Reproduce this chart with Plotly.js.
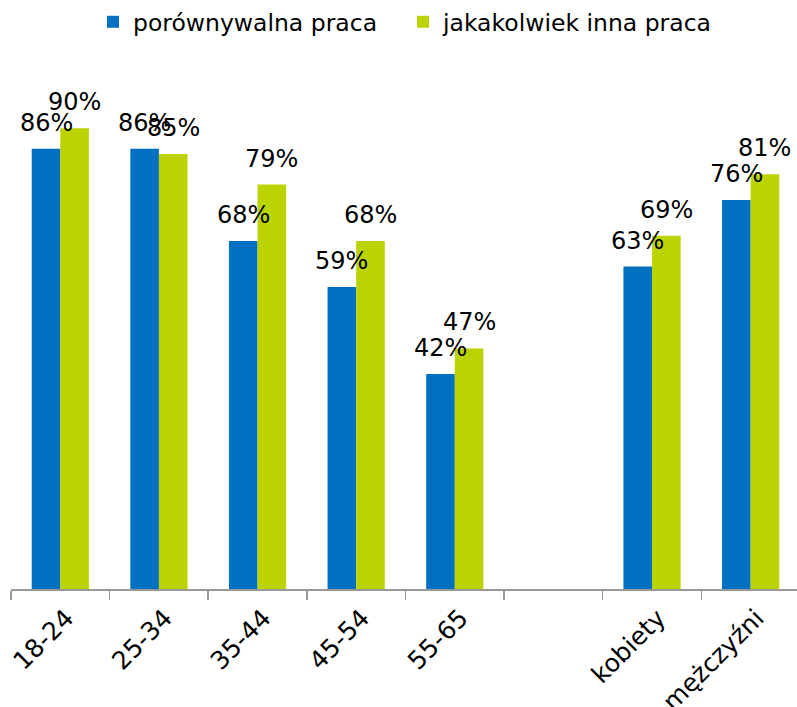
<!DOCTYPE html>
<html>
<head>
<meta charset="utf-8">
<script src="https://cdn.plot.ly/plotly-3.0.1.min.js"></script>
<style>html,body{margin:0;padding:0;background:#fff;overflow:hidden;}</style>
</head>
<body>
<div id="chart" style="width:797px;height:707px;"></div>
<script>
const categories = ['18-24', '25-34', '35-44', '45-54', '55-65', ' ', 'kobiety', 'mężczyźni'];
const seriesNames = ['porównywalna praca', 'jakakolwiek inna praca'];
const porownywalna = [86, 86, 68, 59, 42, null, 63, 76];
const jakakolwiek = [90, 85, 79, 68, 47, null, 69, 81];
const colors = ['#0070C0', '#BBD300'];
const FONT = 'DejaVu Sans, Verdana, sans-serif';

const series = [porownywalna, jakakolwiek];
const traces = series.map((vals, i) => ({
  type: 'bar',
  name: seriesNames[i],
  x: categories,
  y: vals,
  marker: {color: colors[i]},
  hoverinfo: 'none'
}));

const annotations = [];
series.forEach((vals, i) => {
  vals.forEach((v, j) => {
    if (v === null) return;
    annotations.push({
      x: categories[j], y: v, xref: 'x', yref: 'y',
      text: v + '%', showarrow: false,
      xanchor: 'center', yanchor: 'bottom',
      xshift: i === 0 ? -14.25 : 14.25, yshift: 10,
      font: {family: FONT, size: 24, color: '#000'}
    });
  });
});

const layout = {
  width: 797, height: 707,
  margin: {l: 11, r: 0, t: 50, b: 118},
  paper_bgcolor: '#fff', plot_bgcolor: '#fff',
  font: {family: FONT, color: '#000'},
  barmode: 'group', bargap: 0.42, bargroupgap: 0,
  showlegend: true,
  legend: {orientation: 'h', x: 0.1043, xanchor: 'left', y: 1.0946, yanchor: 'top',
           font: {family: FONT, size: 23.5, color: '#000'}, itemwidth: 30, entrywidth: 265},
  xaxis: {type: 'category', range: [-0.5, 7.47], showline: true, linecolor: '#999', linewidth: 1.5,
          ticks: 'outside', ticklen: 9, tickcolor: '#999', tickwidth: 1.5, tickson: 'boundaries',
          tickangle: -45, tickfont: {family: FONT, size: 25, color: '#000'}, showgrid: false, zeroline: false,
          ticklabelshift: 6, ticklabelstandoff: 3, fixedrange: true},
  yaxis: {visible: false, range: [0, 105.1], showgrid: false, zeroline: false, fixedrange: true},
  annotations: annotations
};

Plotly.newPlot('chart', traces, layout, {staticPlot: true, displayModeBar: false});
</script>
</body>
</html>
